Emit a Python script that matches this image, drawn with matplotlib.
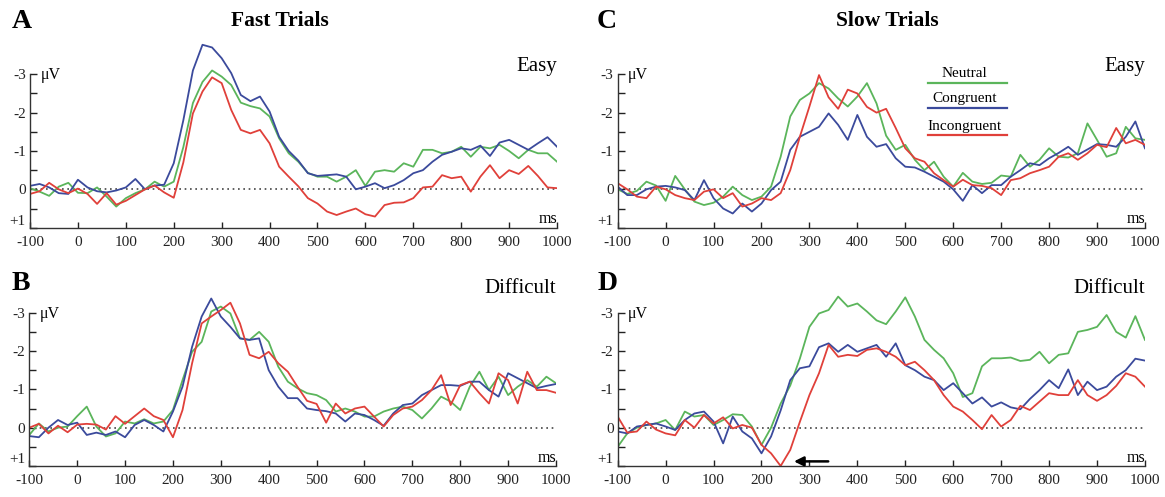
import matplotlib
matplotlib.use("Agg")
import matplotlib.pyplot as plt
from matplotlib.lines import Line2D

plt.rcParams['font.family'] = ['Liberation Serif', 'DejaVu Serif']

# time axis (ms), one reading every 20 ms
times = list(range(-100, 1001, 20))

# ---- A: fast trials, easy (µV, negative is up)
fast_easy_neutral = [-0.03, 0.06, 0.17, -0.07, -0.17, 0.09, 0.1, -0.05, 0.19, 0.45, 0.23, 0.1, 0.0, -0.2, -0.07,
                     -0.2, -1.1, -2.25, -2.8, -3.1, -2.94, -2.72, -2.26, -2.17, -2.11, -1.9, -1.33, -0.94, -0.72,
                     -0.43, -0.33, -0.33, -0.2, -0.33, -0.5, -0.09, -0.46, -0.5, -0.46, -0.68, -0.59, -1.03, -1.03,
                     -0.94, -0.98, -1.11, -0.85, -1.11, -1.07, -1.16, -1.0, -0.81, -1.03, -0.94, -0.94, -0.72]
fast_easy_congruent = [-0.09, -0.14, -0.05, 0.1, 0.12, -0.25, -0.05, 0.05, 0.08, 0.03, -0.05, -0.27, 0.0, -0.1,
                       -0.12, -0.68, -1.8, -3.1, -3.77, -3.7, -3.42, -3.03, -2.46, -2.3, -2.42, -2.03, -1.37, -1.0,
                       -0.75, -0.42, -0.35, -0.37, -0.39, -0.33, 0.0, -0.07, -0.16, -0.03, -0.11, -0.24, -0.42, -0.5,
                       -0.72, -0.9, -0.98, -1.07, -1.03, -1.14, -0.87, -1.22, -1.29, -1.16, -1.03, -1.2, -1.36, -1.11]
fast_easy_incongruent = [0.12, 0.05, -0.17, 0.0, 0.1, -0.02, 0.12, 0.38, 0.1, 0.4, 0.3, 0.15, 0.0, -0.1, 0.08,
                         0.22, -0.7, -1.98, -2.55, -2.92, -2.77, -2.07, -1.55, -1.46, -1.55, -1.2, -0.59, -0.33,
                         -0.08, 0.23, 0.37, 0.58, 0.67, 0.58, 0.5, 0.65, 0.71, 0.41, 0.35, 0.34, 0.23, -0.05, -0.07,
                         -0.37, -0.29, -0.33, 0.06, -0.33, -0.63, -0.29, -0.5, -0.4, -0.61, -0.35, -0.05, -0.03]

# ---- B: fast trials, difficult
fast_diff_neutral = [0.19, -0.11, 0.1, 0.0, -0.03, -0.3, -0.55, -0.03, 0.23, 0.15, -0.16, -0.11, -0.22, -0.11,
                     -0.16, -0.46, -1.24, -1.98, -2.24, -3.03, -3.16, -2.98, -2.33, -2.29, -2.5, -2.24, -1.59, -1.2,
                     -1.03, -0.9, -0.85, -0.72, -0.42, -0.5, -0.42, -0.29, -0.29, -0.42, -0.5, -0.55, -0.46, -0.24,
                     -0.5, -0.81, -0.68, -0.46, -1.07, -1.46, -0.98, -1.33, -0.85, -1.07, -1.24, -1.07, -1.33, -1.16]
fast_diff_congruent = [0.22, 0.25, 0.0, -0.2, -0.07, -0.13, 0.19, 0.13, 0.19, 0.1, 0.25, -0.07, -0.2, -0.07, 0.1,
                       -0.42, -1.07, -2.11, -2.9, -3.37, -2.9, -2.63, -2.33, -2.29, -2.33, -1.5, -1.07, -0.77,
                       -0.77, -0.5, -0.46, -0.43, -0.37, -0.16, -0.37, -0.33, -0.2, -0.05, -0.37, -0.59, -0.63,
                       -0.85, -0.98, -1.11, -1.11, -1.09, -1.2, -1.2, -0.98, -0.81, -1.42, -1.29, -1.16, -1.03,
                       -1.09, -1.14]
fast_diff_incongruent = [0.0, -0.1, 0.15, -0.05, 0.12, -0.08, -0.1, -0.08, 0.05, -0.3, -0.1, -0.3, -0.5, -0.3,
                         -0.2, 0.25, -0.46, -1.68, -2.72, -2.9, -3.07, -3.26, -2.72, -1.9, -1.81, -1.98, -1.68,
                         -1.46, -1.07, -0.7, -0.62, -0.13, -0.63, -0.37, -0.5, -0.55, -0.29, -0.03, -0.33, -0.5,
                         -0.55, -0.72, -0.98, -1.37, -0.59, -1.11, -1.2, -0.9, -0.63, -1.42, -1.24, -0.63, -1.46,
                         -0.98, -0.98, -0.91]

# ---- C: slow trials, easy
slow_easy_neutral = [0.0, 0.12, 0.04, -0.2, -0.1, 0.3, -0.35, 0.0, 0.32, 0.41, 0.35, 0.19, -0.07, 0.15, 0.28,
                     0.19, -0.07, -0.85, -1.9, -2.33, -2.5, -2.77, -2.63, -2.37, -2.16, -2.42, -2.77, -2.24, -1.4,
                     -1.03, -1.16, -0.77, -0.5, -0.72, -0.33, -0.07, -0.43, -0.2, -0.14, -0.17, -0.36, -0.33, -0.9,
                     -0.59, -0.77, -1.07, -0.85, -0.83, -0.94, -1.72, -1.29, -0.85, -0.94, -1.63, -1.33, -1.29]
slow_easy_congruent = [-0.07, 0.15, 0.15, 0.0, -0.07, -0.09, -0.05, 0.02, 0.28, -0.24, 0.23, 0.5, 0.63, 0.37,
                       0.58, 0.37, 0.02, -0.2, -1.03, -1.37, -1.5, -1.63, -1.98, -1.68, -1.29, -1.94, -1.37, -1.11,
                       -1.18, -0.81, -0.59, -0.57, -0.46, -0.33, -0.2, 0.0, 0.3, -0.11, 0.1, -0.11, -0.11, -0.33,
                       -0.5, -0.68, -0.63, -0.81, -0.95, -1.11, -0.9, -1.04, -1.18, -1.16, -1.11, -1.37, -1.77,
                       -1.07]
slow_easy_incongruent = [-0.16, 0.0, 0.19, 0.23, -0.07, 0.0, 0.15, 0.23, 0.28, 0.06, 0.0, 0.23, 0.1, 0.45, 0.37,
                         0.23, 0.28, 0.1, -0.5, -1.37, -2.16, -2.98, -2.4, -2.1, -2.6, -2.5, -2.15, -2.0, -2.1,
                         -1.6, -1.07, -0.81, -0.72, -0.42, -0.24, -0.07, -0.25, -0.11, -0.09, -0.03, 0.15, -0.24,
                         -0.29, -0.42, -0.5, -0.59, -0.85, -0.94, -0.77, -0.94, -1.16, -1.1, -1.6, -1.2, -1.29,
                         -1.16]

# ---- D: slow trials, difficult
slow_diff_neutral = [0.5, 0.15, 0.0, -0.07, -0.11, -0.2, 0.06, -0.42, -0.29, -0.33, -0.07, -0.2, -0.35, -0.33,
                     -0.03, 0.45, 0.0, -0.63, -1.1, -1.8, -2.63, -2.98, -3.07, -3.42, -3.16, -3.24, -3.03, -2.8,
                     -2.7, -3.03, -3.4, -2.9, -2.29, -2.03, -1.81, -1.42, -0.8, -0.9, -1.6, -1.81, -1.81, -1.83,
                     -1.74, -1.77, -1.98, -1.68, -1.9, -1.94, -2.5, -2.55, -2.63, -2.94, -2.5, -2.35, -2.91, -2.29]
slow_diff_congruent = [0.1, 0.15, -0.03, -0.07, -0.11, -0.03, 0.06, -0.2, -0.37, -0.42, -0.16, 0.41, -0.29, 0.1,
                       0.28, 0.67, 0.23, -0.45, -1.24, -1.55, -1.6, -2.1, -2.2, -1.98, -2.16, -1.98, -2.07, -2.16,
                       -1.85, -2.2, -1.63, -1.5, -1.33, -1.24, -0.98, -1.16, -0.9, -0.63, -0.79, -0.55, -0.66,
                       -0.53, -0.48, -0.75, -0.98, -1.24, -1.03, -1.52, -0.85, -1.2, -0.98, -1.07, -1.33, -1.5,
                       -1.8, -1.75]
slow_diff_incongruent = [-0.29, 0.13, 0.1, -0.16, 0.05, 0.15, 0.2, -0.2, 0.0, -0.33, -0.11, -0.27, 0.02, -0.07,
                         0.0, 0.45, 0.67, 1.0, 0.58, -0.15, -0.85, -1.42, -2.16, -1.85, -1.9, -1.87, -2.03, -2.07,
                         -1.98, -1.85, -1.63, -1.72, -1.5, -1.24, -0.85, -0.55, -0.42, -0.2, 0.04, -0.33, -0.03,
                         -0.2, -0.57, -0.46, -0.68, -0.9, -0.85, -0.85, -1.24, -0.85, -0.7, -0.85, -1.09, -1.42,
                         -1.33, -1.07]

cond_names = ['Neutral', 'Congruent', 'Incongruent']
x_ticks = list(range(-100, 1001, 100))
y_ticks = [-3, -2, -1, 0, 1]
y_tick_labels = ['-3', '-2', '-1', '0', '+1']

GREEN = '#5bb55b'
BLUE = '#3b4a9c'
RED = '#e0403a'
colors = [GREEN, BLUE, RED]

fig = plt.figure(figsize=(11.65, 4.97), dpi=100)


def draw_panel(rect, series, difficulty, ytext):
    ax = fig.add_axes(rect)
    ax.axhline(0, color='#444444', lw=1.2, ls=(0, (1, 2.2)), zorder=1)
    for vals, c in zip(series, colors):
        ax.plot(times, vals, color=c, lw=1.3, zorder=2)
    ax.set_xlim(-100, 1000)
    ax.set_ylim(1, -3.95)
    for s in ['top', 'right']:
        ax.spines[s].set_visible(False)
    ax.spines['left'].set_bounds(-3, 1)
    for s in ['left', 'bottom']:
        ax.spines[s].set_color('#333333')
        ax.spines[s].set_linewidth(1.0)
    ax.set_xticks(x_ticks)
    ax.set_xticklabels([str(t) for t in x_ticks])
    ax.set_yticks(y_ticks)
    ax.set_yticklabels(y_tick_labels)
    ax.set_yticks([-2.5, -1.5, -0.5, 0.5], minor=True)
    ax.tick_params(axis='x', direction='in', length=4, width=1, labelsize=11, pad=6, colors='#222222')
    ax.tick_params(axis='y', which='both', direction='in', length=5, width=1, labelsize=11, pad=3,
                   colors='#222222')
    # lift the '+1' label a little so it clears the '-100' label below it
    ax.get_yticklabels()[-1].set_verticalalignment('bottom')
    ax.text(-78, -2.97, 'μV', ha='left', va='center', fontsize=11.5)
    ax.text(1000, 0.78, 'ms', ha='right', va='center', fontsize=11.5)
    ax.text(1000, ytext, difficulty, ha='right', va='center', fontsize=15)
    return ax


axA = draw_panel([0.02575, 0.5419, 0.4524, 0.3819],
                 [fast_easy_neutral, fast_easy_congruent, fast_easy_incongruent], 'Easy', -3.2)
axB = draw_panel([0.02515, 0.0624, 0.4521, 0.3817],
                 [fast_diff_neutral, fast_diff_congruent, fast_diff_incongruent], 'Difficult', -3.63)
axC = draw_panel([0.5302, 0.5419, 0.4526, 0.3819],
                 [slow_easy_neutral, slow_easy_congruent, slow_easy_incongruent], 'Easy', -3.2)
axD = draw_panel([0.5302, 0.0624, 0.4526, 0.3817],
                 [slow_diff_neutral, slow_diff_congruent, slow_diff_incongruent], 'Difficult', -3.63)

# legend in panel C: name above a short coloured line
for name, c, ty, ly in zip(cond_names, colors, [0.814, 0.679, 0.535], [0.7636, 0.6323, 0.4909]):
    axC.text(0.658, ty, name, transform=axC.transAxes, ha='center', va='center', fontsize=11)
    axC.add_line(Line2D([0.588, 0.738], [ly, ly], transform=axC.transAxes, color=c, lw=1.6))

# arrow marking the early positivity in panel D
axD.annotate('', xy=(262, 0.88), xytext=(345, 0.88),
             arrowprops=dict(arrowstyle='-|>', color='black', lw=1.8, mutation_scale=14))

# panel letters and titles
fig.text(0.010, 1 - 21 / 497, 'A', fontsize=20, weight='bold', va='center')
fig.text(0.010, 1 - 283 / 497, 'B', fontsize=20, weight='bold', va='center')
fig.text(0.5125, 1 - 21 / 497, 'C', fontsize=20, weight='bold', va='center')
fig.text(0.5125, 1 - 283 / 497, 'D', fontsize=20, weight='bold', va='center')
fig.text(280 / 1165, 1 - 21 / 497, 'Fast Trials', ha='center', va='center', fontsize=15.5, weight='bold')
fig.text(887 / 1165, 1 - 21 / 497, 'Slow Trials', ha='center', va='center', fontsize=15.5, weight='bold')

fig.savefig('out.png', dpi=100)
